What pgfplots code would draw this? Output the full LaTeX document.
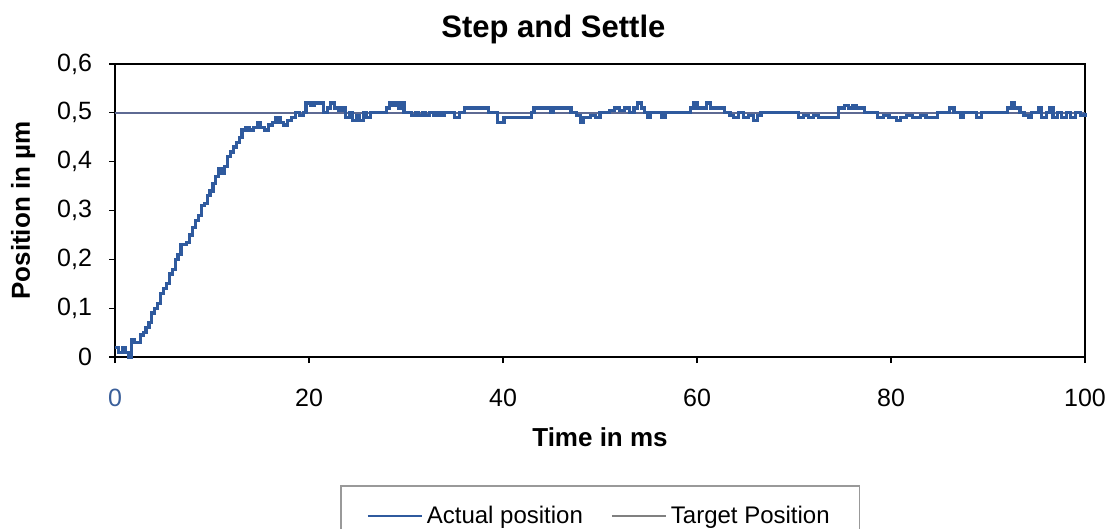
\documentclass[border=0pt]{standalone}
\usepackage{pgfplots}
\pgfplotsset{compat=1.18}
\usepackage{fontspec}
\setmainfont{Liberation Sans}
\definecolor{actual}{HTML}{2F5A9E}
\definecolor{target}{HTML}{5E6A93}
\definecolor{zeroblue}{HTML}{3A5F9A}

\begin{document}
\begin{tikzpicture}
  % page frame: 556pt x 264.5pt, axis box at origin
  \useasboundingbox (-57.5pt,-86pt) rectangle (498.5pt,178.5pt);
  \begin{axis}[
      at={(0,0)}, anchor=south west,
      scale only axis,
      width=485pt, height=146.5pt,
      xmin=0, xmax=100,
      ymin=0, ymax=0.6,
      xtick={0,20,...,100},
      xticklabels={\textcolor{zeroblue}{0},20,40,60,80,100},
      ytick={0,0.1,...,0.6},
      xtick pos=bottom, ytick pos=left,
      tick align=outside,
      major tick length=3pt,
      tick style={black, line width=0.6pt},
      axis line style={black, line width=1.3pt},
      /pgf/number format/assume math mode=true,
      /pgf/number format/use comma,
      /pgf/number format/fixed,
      /pgf/number format/precision=1,
      tick label style={font=\fontsize{12.5}{14}\selectfont},
      xticklabel style={yshift=-9.5pt},
      yticklabel style={xshift=-5pt},
      xlabel={\textbf{Time in ms}},
      ylabel={\textbf{Position in µm}},
      label style={font=\fontsize{13}{15}\selectfont},
      xlabel style={at={(axis description cs:0.5,-0.273)}, anchor=center},
      ylabel style={at={(axis description cs:-0.0948,0.5)}, anchor=center},
      legend columns=2,
      legend style={
        at={(axis description cs:0.232,-0.437)}, anchor=north west,
        draw=gray!80, line width=0.8pt,
        inner xsep=13pt, inner ysep=8pt,
        font=\fontsize{12}{14}\selectfont,
        /tikz/every even column/.append style={column sep=12pt},
      },
      legend image code/.code={\draw[#1, line width=1pt] (0pt,0pt) -- (27pt,0pt);},
      legend cell align=left,
      clip=false,
    ]

    % target position
    \addplot [target, line width=1pt, forget plot] coordinates {(0,0.5) (100,0.5)};

    % measured position (staircase)
    \addplot [actual, line width=1.6pt, const plot] coordinates {
      (0,0.02) (0.4,0.01) (0.8,0.02) (1.1,0.01) (1.4,0.0) (1.7,0.035)
      (2.0,0.03) (2.3,0.03) (2.6,0.045) (2.9,0.05) (3.2,0.06) (3.5,0.07)
      (3.8,0.09) (4.1,0.10) (4.4,0.11) (4.7,0.13) (5.0,0.14) (5.3,0.15)
      (5.6,0.17) (5.9,0.18) (6.2,0.20) (6.5,0.21) (6.8,0.23) (7.1,0.23)
      (7.4,0.235) (7.7,0.25) (8.0,0.265) (8.3,0.28) (8.6,0.29) (8.9,0.31)
      (9.2,0.315) (9.5,0.33) (9.8,0.34) (10.1,0.355) (10.4,0.37) (10.7,0.385)
      (11.0,0.375) (11.3,0.39) (11.6,0.41) (11.9,0.42) (12.2,0.43) (12.5,0.44)
      (12.8,0.45) (13.1,0.465) (13.5,0.47) (13.9,0.465) (14.3,0.47) (14.7,0.48)
      (15.0,0.47) (15.4,0.465) (15.8,0.475) (16.2,0.48) (16.6,0.49) (17.0,0.48)
      (17.4,0.475) (17.8,0.485) (18.2,0.49) (18.6,0.50) (19.0,0.495) (19.4,0.50)
      (19.7,0.52) (20.2,0.515) (20.6,0.52) (21.2,0.52) (21.5,0.50) (21.9,0.51)
      (22.2,0.52) (22.6,0.51) (23.0,0.505) (23.4,0.51) (23.8,0.49) (24.2,0.50)
      (24.5,0.485) (24.9,0.495) (25.2,0.485) (25.6,0.50) (25.9,0.49) (26.3,0.50)
      (28.0,0.51) (28.3,0.52) (28.6,0.515) (28.9,0.52) (29.2,0.51) (29.5,0.52)
      (29.8,0.50) (30.6,0.495) (31.0,0.50) (31.3,0.495) (31.7,0.50) (32.0,0.495)
      (32.4,0.50) (32.8,0.495) (33.2,0.50) (33.6,0.495) (34.0,0.50) (35.0,0.49)
      (35.5,0.50) (36.0,0.51) (38.5,0.50) (39.4,0.48) (40.1,0.49) (42.9,0.50)
      (43.2,0.51) (44.9,0.50) (45.2,0.51) (47.0,0.50) (47.6,0.495) (48.0,0.48)
      (48.3,0.49) (49.0,0.495) (49.5,0.49) (50.0,0.50) (51.0,0.505) (51.5,0.51)
      (52.0,0.505) (52.5,0.51) (53.0,0.50) (53.5,0.51) (53.9,0.52) (54.3,0.51)
      (54.6,0.50) (54.9,0.49) (55.2,0.50) (56.4,0.49) (56.7,0.50) (59.3,0.51)
      (59.6,0.52) (60.0,0.51) (61.0,0.52) (61.4,0.51) (62.8,0.50) (63.4,0.495)
      (63.8,0.49) (64.3,0.50) (64.8,0.49) (65.3,0.495) (65.8,0.485) (66.2,0.495)
      (66.6,0.50) (70.5,0.49) (71.0,0.495) (71.5,0.49) (72.0,0.495) (72.5,0.49)
      (74.6,0.51) (75.2,0.515) (75.6,0.51) (76.0,0.515) (76.4,0.51) (77.3,0.50)
      (78.6,0.49) (79.2,0.495) (79.8,0.49) (80.6,0.485) (81.0,0.49) (81.6,0.495)
      (82.2,0.49) (83.0,0.495) (83.6,0.49) (84.8,0.50) (86.0,0.51) (86.5,0.50)
      (87.2,0.49) (87.5,0.50) (88.8,0.49) (89.3,0.50) (92.0,0.51) (92.4,0.52)
      (92.7,0.51) (93.3,0.50) (93.7,0.495) (94.2,0.49) (94.5,0.50) (95.2,0.51)
      (95.5,0.49) (96.0,0.50) (96.4,0.51) (96.7,0.49) (97.2,0.50) (97.6,0.49)
      (98.1,0.50) (98.5,0.49) (99.0,0.50) (99.5,0.495) (100,0.50)
    };
    \addlegendentry{Actual position}

    \addlegendimage{gray}
    \addlegendentry{Target Position}

    % title, set by hand so that its baseline sits where the reference's does
    \node[font=\fontsize{15.5}{18}\selectfont\bfseries, anchor=base]
      at (axis description cs:0.452,1.092) {Step and Settle};
  \end{axis}
\end{tikzpicture}
\end{document}
